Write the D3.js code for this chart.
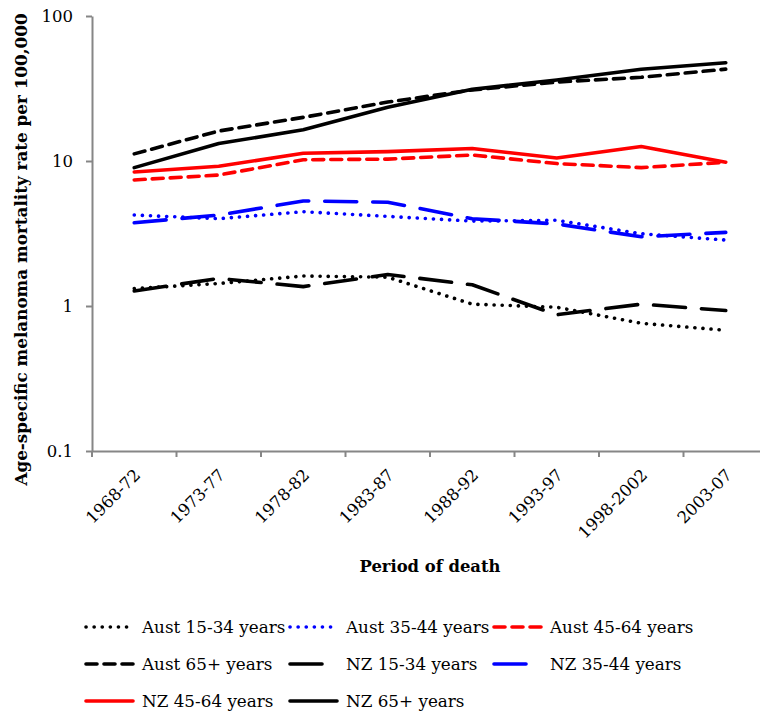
<!DOCTYPE html>
<html><head><meta charset="utf-8">
<script src="https://cdn.jsdelivr.net/npm/d3@7"></script>
<style>body{margin:0;background:#fff}svg{display:block}</style>
</head><body>
<svg id="c" width="760" height="717"></svg>
<script>
const periods = ["1968-72","1973-77","1978-82","1983-87","1988-92","1993-97","1998-2002","2003-07"];
const yTicks = [0.1, 1, 10, 100];
const seriesNames = ["Aust 15-34 years","Aust 35-44 years","Aust 45-64 years","Aust 65+ years","NZ 15-34 years","NZ 35-44 years","NZ 45-64 years","NZ 65+ years"];
const aust1534 = [1.32, 1.43, 1.61, 1.58, 1.03, 0.98, 0.76, 0.68];
const aust3544 = [4.24, 4.0, 4.47, 4.15, 3.85, 3.9, 3.15, 2.85];
const aust4564 = [7.4, 8.0, 10.2, 10.3, 11.0, 9.6, 9.0, 9.8];
const aust65 = [11.2, 16.1, 20.0, 25.5, 30.9, 35.0, 37.8, 43.0];
const nz1534 = [1.27, 1.55, 1.36, 1.65, 1.40, 0.87, 1.03, 0.93];
const nz3544 = [3.75, 4.24, 5.3, 5.2, 4.0, 3.68, 3.0, 3.22];
const nz4564 = [8.4, 9.2, 11.3, 11.6, 12.2, 10.5, 12.6, 9.8];
const nz65 = [9.0, 13.2, 16.4, 23.5, 31.2, 36.2, 42.9, 47.6];

const styles = [
  {c:"#000", d:"0.1,8", cap:"round"},
  {c:"#0000ff", d:"0.1,8", cap:"round"},
  {c:"#ff0000", d:"11,7", cap:"round"},
  {c:"#000", d:"11,7", cap:"round"},
  {c:"#000", d:"32,16", cap:"round"},
  {c:"#0000ff", d:"32,16", cap:"round"},
  {c:"#ff0000", d:null, cap:"round"},
  {c:"#000", d:null, cap:"round"}
];
const allData = [aust1534, aust3544, aust4564, aust65, nz1534, nz3544, nz4564, nz65];

const svg = d3.select("#c");
const L = 92, R = 768, T = 16, B = 451;
const x = d3.scaleBand().domain(periods).range([L, R]);
const y = d3.scaleLog().domain([0.1, 100]).range([B, T]);
const cx = p => x(p) + x.bandwidth()/2;
const grey = "#868686";
const serif = "'DejaVu Serif', serif";

// y axis
const ya = svg.append("g").attr("transform", `translate(${L},0)`)
  .call(d3.axisLeft(y).tickValues(yTicks).tickFormat(d => String(d)).tickSize(6).tickSizeOuter(0));
ya.select(".domain").attr("stroke", grey).attr("stroke-width", 2);
ya.selectAll(".tick line").attr("stroke", grey).attr("stroke-width", 2);
ya.selectAll(".tick text").attr("font-family", serif).attr("font-size", 16.5).attr("fill", "#000").attr("x", -19);

// x axis
const xa = svg.append("g").attr("transform", `translate(0,${B})`)
  .call(d3.axisBottom(x).tickSize(0).tickSizeOuter(0));
xa.select(".domain").attr("stroke", grey).attr("stroke-width", 2);
xa.selectAll(".tick line").remove();
const bounds = periods.map(p => x(p)).concat([R]);
xa.selectAll("line.bt").data(bounds).enter().append("line").attr("class","bt")
  .attr("x1", d => d).attr("x2", d => d).attr("y1", 0).attr("y2", 6)
  .attr("stroke", grey).attr("stroke-width", 2);
xa.selectAll(".tick text")
  .attr("font-family", serif).attr("font-size", 16.5).attr("fill", "#000")
  .attr("text-anchor", "end").attr("dy", "0.35em")
  .attr("transform", "translate(3,21) rotate(-45)").attr("x", 0).attr("y", 0);

// lines
const line = d3.line().x((d, i) => cx(periods[i])).y(d => y(d));
allData.forEach((arr, k) => {
  const s = styles[k];
  svg.append("path").datum(arr).attr("d", line)
    .attr("fill", "none").attr("stroke", s.c).attr("stroke-width", 3.6)
    .attr("stroke-linecap", s.cap).attr("stroke-linejoin", "round")
    .attr("stroke-dasharray", s.d);
});

// axis titles
svg.append("text").attr("transform", `translate(27,249.5) rotate(-90)`)
  .attr("text-anchor", "middle").attr("font-family", serif).attr("font-weight", "bold")
  .attr("font-size", 16.8).text("Age-specific melanoma mortality rate per 100,000");
svg.append("text").attr("x", (L+R)/2).attr("y", 572).attr("text-anchor", "middle")
  .attr("font-family", serif).attr("font-weight", "bold").attr("font-size", 16.4).text("Period of death");

// legend
const colX = [86, 290, 494], rowY = [627, 664, 701];
seriesNames.forEach((n, k) => {
  const cxL = colX[k % 3], ry = rowY[Math.floor(k / 3)];
  const s = styles[k];
  svg.append("line").attr("x1", cxL).attr("x2", cxL + 47).attr("y1", ry).attr("y2", ry)
    .attr("stroke", s.c).attr("stroke-width", 3.6).attr("stroke-linecap", s.cap)
    .attr("stroke-dasharray", s.d);
  svg.append("text").attr("x", cxL + 56).attr("y", ry).attr("dy", "0.35em")
    .attr("font-family", serif).attr("font-size", 16.8).attr("fill", "#000").text(n);
});
</script>
</body></html>
